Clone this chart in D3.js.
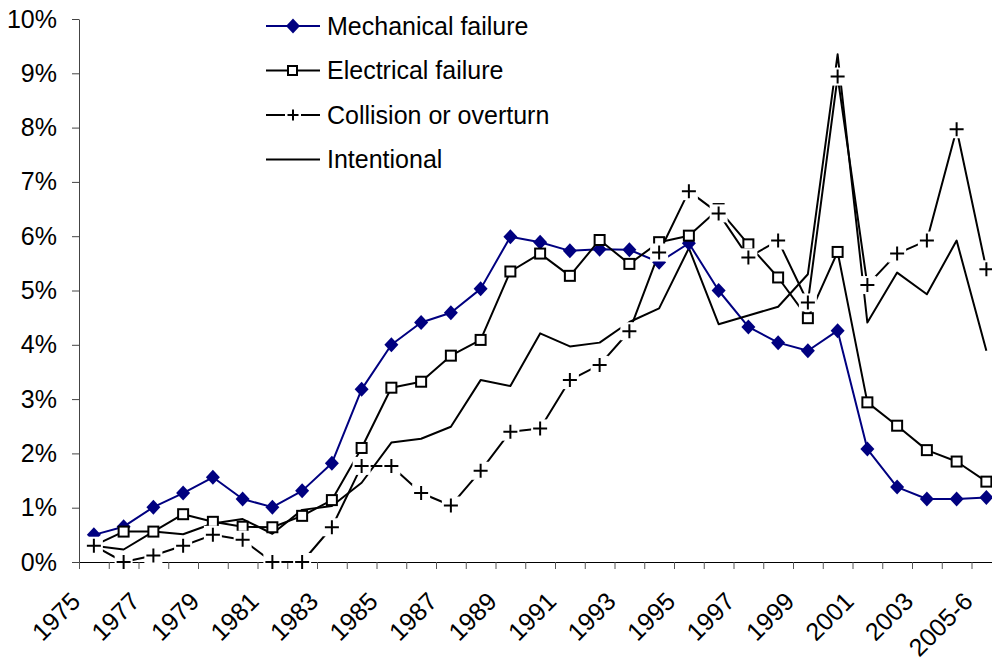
<!DOCTYPE html>
<html>
<head>
<meta charset="utf-8">
<script src="https://cdn.jsdelivr.net/npm/d3@7"></script>
<style>
body { margin:0; background:#fff; }
svg text { font-family: "Liberation Sans", Arial, sans-serif; font-size:25px; fill:#000; }
</style>
</head>
<body>
<div id="chart"></div>
<script>
var years = ["1975","1976","1977","1978","1979","1980","1981","1982","1983","1984",
             "1985","1986","1987","1988","1989","1990","1991","1992","1993","1994",
             "1995","1996","1997","1998","1999","2000","2001","2002","2003","2004","2005-6"];
var shownLabels = ["1975","1977","1979","1981","1983","1985","1987","1989","1991","1993",
                   "1995","1997","1999","2001","2003","2005-6"];
var yTicks = [0,1,2,3,4,5,6,7,8,9,10];

// percent values
var mechanical = [0.50,0.65,1.01,1.27,1.56,1.16,1.01,1.31,1.82,3.18,4.00,4.41,4.59,5.03,5.99,5.89,
                  5.73,5.76,5.75,5.52,5.87,5.00,4.33,4.04,3.89,4.26,2.08,1.38,1.16,1.16,1.19];
var electrical = [0.30,0.56,0.56,0.88,0.74,0.65,0.64,0.85,1.14,2.10,3.21,3.32,3.80,4.09,5.35,5.68,
                  5.27,5.93,5.49,5.89,6.01,6.50,5.85,5.24,4.49,5.71,2.94,2.51,2.06,1.85,1.48];
var collision  = [0.30,0.00,0.12,0.30,0.50,0.41,0.00,0.00,0.64,1.77,1.77,1.27,1.04,1.68,2.40,2.46,
                  3.35,3.63,4.25,5.70,6.83,6.42,5.61,5.92,4.78,8.94,5.10,5.68,5.92,7.97,5.39];
var intentional= [0.30,0.23,0.56,0.51,0.71,0.79,0.52,0.96,1.03,1.46,2.20,2.27,2.49,3.35,3.24,4.21,
                  3.97,4.04,4.42,4.67,5.78,4.38,4.54,4.70,5.30,9.35,4.41,5.33,4.93,5.92,3.89];
var seriesNames = ["Mechanical failure","Electrical failure","Collision or overturn","Intentional"];

var svg = d3.select('#chart').append('svg')
            .attr('width',992)
            .attr('height',660);

var x = d3.scaleBand().domain(years).range([79, 79 + years.length*29.75]);
var y = d3.scaleLinear().domain([0,10]).range([562,19]);
var cx = function(d,i) { return x(years[i]) + x.bandwidth()/2; };

// y axis
var yAxis = svg.append('g')
               .attr('transform','translate(79,0)')
               .call(d3.axisLeft(y).tickValues(yTicks).tickSize(7).tickSizeOuter(0)
                       .tickPadding(15).tickFormat(d => d + '%'));
yAxis.attr('font-size',null).attr('font-family',null);
yAxis.selectAll('line').attr('stroke','#444');
yAxis.select('.domain').attr('stroke','#444');

// x axis: ticks on category boundaries
var xEdges = d3.scaleLinear().domain([0, years.length]).range(x.range());
var xAxis = svg.append('g')
               .attr('transform','translate(0,562)')
               .call(d3.axisBottom(xEdges).tickValues(d3.range(years.length+1))
                       .tickSize(7).tickSizeOuter(0).tickFormat(''));
xAxis.selectAll('line').attr('stroke','#555');
xAxis.select('.domain').attr('stroke','#000');

svg.append('g').selectAll('text')
   .data(shownLabels)
   .enter().append('text')
   .attr('text-anchor','end')
   .attr('transform', d => 'translate(' + (x(d) + x.bandwidth()/2 - 12) + ',603) rotate(-45)')
   .text(d => d);

// lines
var line = d3.line().x(cx).y(d => y(d));
var seriesData = [mechanical, electrical, collision, intentional];
var seriesColor = ['#000080','#000','#000','#000'];
svg.append('g').selectAll('path')
   .data(seriesData)
   .enter().append('path')
   .attr('fill','none')
   .attr('stroke', (d,i) => seriesColor[i])
   .attr('stroke-width',2)
   .attr('stroke-linejoin','round')
   .attr('d', line);

// markers
var diamond = 'M0,-7.5L7,0L0,7.5L-7,0Z';
var plus = 'M-7,0H7M0,-7V7';

svg.append('g').selectAll('path')
   .data(mechanical)
   .enter().append('path')
   .attr('d', diamond)
   .attr('fill','#000080')
   .attr('transform', (d,i) => 'translate(' + cx(d,i) + ',' + y(d) + ')');

svg.append('g').selectAll('rect')
   .data(electrical)
   .enter().append('rect')
   .attr('x', (d,i) => cx(d,i) - 5).attr('y', d => y(d) - 5)
   .attr('width',10).attr('height',10)
   .attr('fill','#fff').attr('stroke','#000').attr('stroke-width',2);

var plusG = svg.append('g').selectAll('g')
   .data(collision)
   .enter().append('g')
   .attr('transform', (d,i) => 'translate(' + cx(d,i) + ',' + y(d) + ')');
plusG.append('rect').attr('x',-9).attr('y',-9).attr('width',18).attr('height',18).attr('fill','#fff');
plusG.append('path').attr('d', plus).attr('stroke','#000').attr('stroke-width',2);

// legend
var legend = svg.append('g').selectAll('g')
   .data(seriesNames)
   .enter().append('g')
   .attr('transform', (d,i) => 'translate(266,' + (26 + i*44.5) + ')');
legend.append('line')
      .attr('x1',0).attr('x2',54)
      .attr('stroke', (d,i) => seriesColor[i])
      .attr('stroke-width',2);
legend.append('text')
      .attr('x',61).attr('dy','0.35em')
      .text(d => d);
legend.filter((d,i) => i == 0).append('path')
      .attr('d', diamond).attr('fill','#000080')
      .attr('transform','translate(27,0)');
legend.filter((d,i) => i == 1).append('rect')
      .attr('x',22).attr('y',-4.5).attr('width',9).attr('height',9)
      .attr('fill','#fff').attr('stroke','#000').attr('stroke-width',2);
var lp = legend.filter((d,i) => i == 2).append('g').attr('transform','translate(27,0)');
lp.append('rect').attr('x',-8).attr('y',-8).attr('width',16).attr('height',16).attr('fill','#fff');
lp.append('path').attr('d','M-5.5,0H5.5M0,-5.5V5.5').attr('stroke','#000').attr('stroke-width',2);
</script>
</body>
</html>
